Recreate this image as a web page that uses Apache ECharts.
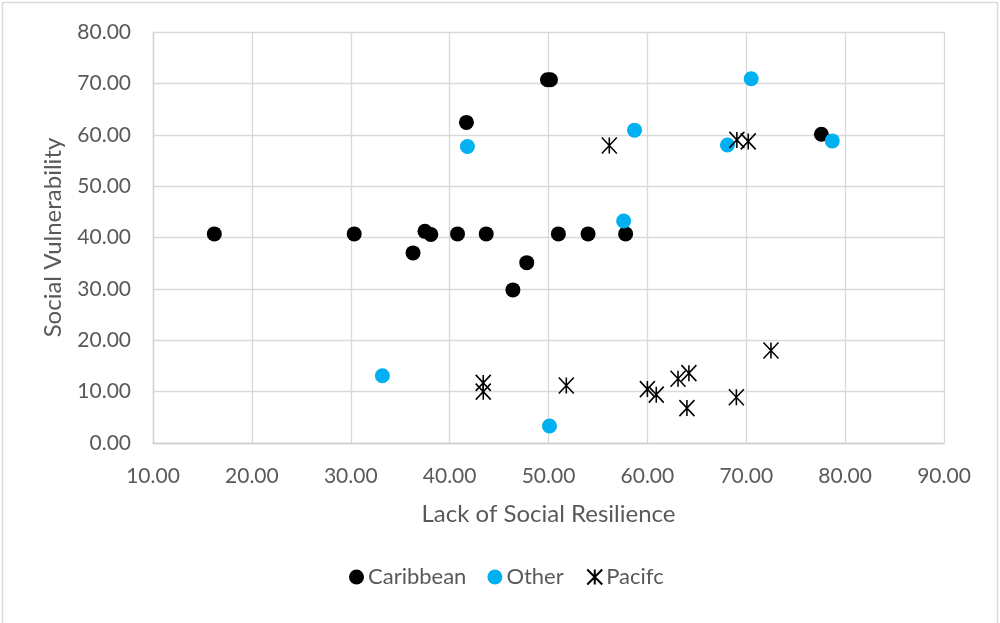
<!DOCTYPE html>
<html>
<head>
<meta charset="utf-8">
<script src="https://cdn.jsdelivr.net/npm/echarts@6/dist/echarts.min.js"></script>
<style>
  html, body { margin: 0; padding: 0; background: #fff; }
  #chart { width: 1000px; height: 623px; }
</style>
</head>
<body>
<div id="chart"></div>
<script>
// Social resilience vs vulnerability, by region
const seriesNames = ['Caribbean', 'Other', 'Pacifc'];

const caribbeanX = [16.2, 30.35, 37.5, 38.1, 36.3, 40.8, 43.7, 41.7, 49.9, 50.2, 47.8, 46.4, 51.0, 54.0, 57.8, 77.6];
const caribbeanY = [40.7, 40.7, 41.2, 40.6, 37.0, 40.7, 40.7, 62.4, 70.7, 70.7, 35.1, 29.8, 40.7, 40.7, 40.7, 60.1];

const otherX = [41.8, 58.7, 70.5, 68.1, 78.7, 57.6, 33.2, 50.1];
const otherY = [57.7, 60.9, 70.9, 58.0, 58.8, 43.2, 13.1, 3.3];

const pacificX = [56.15, 69.05, 70.2, 43.4, 43.4, 51.8, 60.0, 60.9, 63.1, 64.2, 64.0, 69.0, 72.5];
const pacificY = [57.9, 59.0, 58.7, 11.7, 10.0, 11.2, 10.5, 9.4, 12.5, 13.6, 6.8, 8.9, 18.0];

const xTitle = 'Lack of Social Resilience';
const yTitle = 'Social Vulnerability';

function pairs(xs, ys) { return xs.map((x, i) => [x, ys[i]]); }

const FONT = 'Lato';
const TEXT = '#595959';
const GRID = '#d9d9d9';
const STAR = 'path://M0,0L16,16M16,0L0,16M8,0L8,16';

const chart = echarts.init(document.getElementById('chart'), null, { renderer: 'canvas' });

const axisCommon = {
  type: 'value',
  interval: 10,
  nameLocation: 'middle',
  nameTextStyle: { color: TEXT, fontFamily: FONT, fontSize: 24, lineHeight: 24 },
  axisLine: { show: true, lineStyle: { color: '#cfcfcf', width: 1.3 } },
  axisTick: { show: false },
  splitLine: { show: true, lineStyle: { color: GRID, width: 1.3 } },
  axisLabel: {
    color: TEXT, fontFamily: FONT, fontSize: 21, lineHeight: 21,
    formatter: v => v.toFixed(2)
  }
};

chart.setOption({
  animation: false,
  backgroundColor: '#fff',
  textStyle: { fontFamily: FONT },
  graphic: [{
    type: 'rect',
    shape: { x: 2.5, y: 2.5, width: 995, height: 625 },
    style: { fill: 'none', stroke: '#d9d9d9', lineWidth: 1.5 },
    silent: true
  }],
  grid: { left: 153, right: 56, top: 32, bottom: 180, containLabel: false },
  xAxis: Object.assign({}, axisCommon, {
    min: 10, max: 90,
    name: xTitle, nameGap: 59,
    axisLabel: Object.assign({}, axisCommon.axisLabel, { margin: 23 })
  }),
  yAxis: Object.assign({}, axisCommon, {
    min: 0, max: 80,
    name: yTitle, nameGap: 88,
    axisLabel: Object.assign({}, axisCommon.axisLabel, { margin: 22 })
  }),
  legend: {
    top: 561,
    left: 344,
    itemGap: 21,
    itemWidth: 15,
    itemHeight: 15,
    textStyle: { color: TEXT, fontFamily: FONT, fontSize: 22, lineHeight: 22, padding: [0, 0, 0, -1] },
    data: seriesNames
  },
  series: [
    {
      name: seriesNames[0], type: 'scatter', symbol: 'circle', symbolSize: 15,
      itemStyle: { color: '#000000', opacity: 1 },
      data: pairs(caribbeanX, caribbeanY)
    },
    {
      name: seriesNames[1], type: 'scatter', symbol: 'circle', symbolSize: 15,
      itemStyle: { color: '#00b0f0', opacity: 1 },
      data: pairs(otherX, otherY)
    },
    {
      name: seriesNames[2], type: 'scatter', symbol: STAR, symbolSize: [15, 16],
      itemStyle: { color: 'none', borderColor: '#000000', borderWidth: 1.6, opacity: 1 },
      data: pairs(pacificX, pacificY)
    }
  ]
});
</script>
</body>
</html>
